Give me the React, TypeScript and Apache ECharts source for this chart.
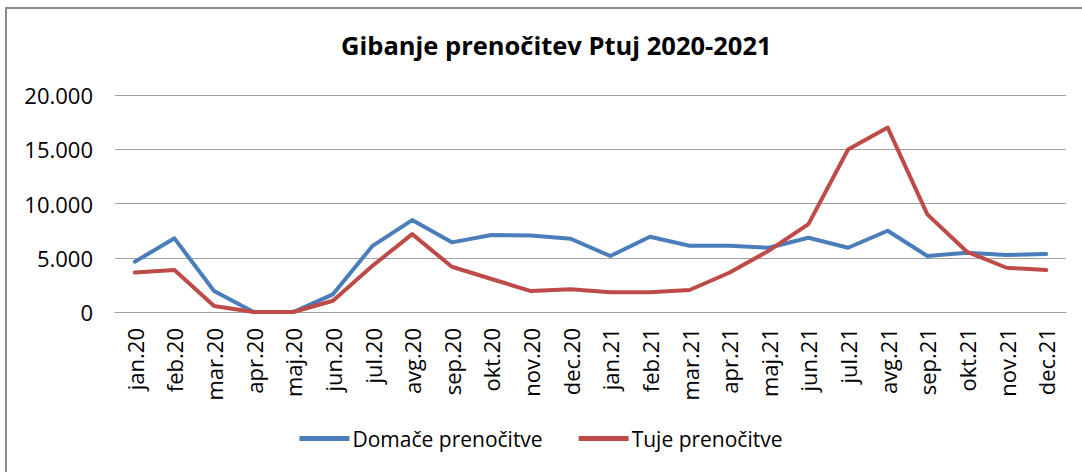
import React, { useEffect, useRef } from "react";
import * as echarts from "echarts";

const categories = [
  "jan.20", "feb.20", "mar.20", "apr.20", "maj.20", "jun.20", "jul.20", "avg.20",
  "sep.20", "okt.20", "nov.20", "dec.20", "jan.21", "feb.21", "mar.21", "apr.21",
  "maj.21", "jun.21", "jul.21", "avg.21", "sep.21", "okt.21", "nov.21", "dec.21",
];

const domace = [
  4630, 6790, 1930, 0, 0, 1630, 6100, 8470, 6420, 7090, 7060, 6750,
  5160, 6930, 6100, 6100, 5920, 6840, 5920, 7490, 5160, 5460, 5250, 5340,
];

const tuje = [
  3650, 3870, 550, 0, 0, 1040, 4260, 7180, 4170, 3040, 1930, 2090,
  1810, 1810, 2030, 3620, 5650, 8100, 14980, 17000, 9000, 5550, 4080, 3870,
];

const seriesNames = ["Domače prenočitve", "Tuje prenočitve"];
const titleText = "Gibanje prenočitev Ptuj 2020-2021";

const FONT = "'Open Sans', 'Noto Sans', sans-serif";

export default function App() {
  const ref = useRef<HTMLDivElement>(null);
  useEffect(() => {
    if (!ref.current) return;
    const chart = echarts.init(ref.current, null, { renderer: "svg" });
    chart.setOption({
      animation: false,
      backgroundColor: "#ffffff",
      title: {
        text: titleText,
        left: 336,
        top: 27,
        textStyle: { fontFamily: FONT, fontSize: 25.5, fontWeight: "bold", color: "#000" },
      },
      legend: {
        data: seriesNames,
        bottom: 18,
        left: "center",
        icon: "rect",
        itemWidth: 50,
        itemHeight: 5,
        itemGap: 36,
        textStyle: { fontFamily: FONT, fontSize: 21, color: "#000", padding: [0, 0, 0, -2] },
      },
      grid: { left: 115, right: 16, top: 95, bottom: 160, containLabel: false },
      xAxis: {
        type: "category",
        data: categories,
        boundaryGap: true,
        axisLine: { show: true, lineStyle: { color: "#a0a0a0", width: 1 } },
        axisTick: { show: false },
        axisLabel: {
          rotate: 90,
          interval: 0,
          margin: 16,
          fontFamily: FONT,
          fontSize: 22,
          color: "#000",
        },
      },
      yAxis: {
        type: "value",
        min: 0,
        max: 20000,
        interval: 5000,
        axisLine: { show: false },
        axisTick: { show: false },
        splitLine: { lineStyle: { color: "#a0a0a0", width: 1 } },
        axisLabel: {
          margin: 22,
          fontFamily: FONT,
          fontSize: 22,
          color: "#000",
          formatter: (v: number) => (v === 0 ? "0" : v.toLocaleString("de-DE")),
        },
      },
      series: [
        {
          name: seriesNames[0],
          type: "line",
          data: domace,
          symbol: "none",
          lineStyle: { color: "#4A7EBB", width: 4, join: "round", cap: "round" },
          itemStyle: { color: "#4A7EBB" },
        },
        {
          name: seriesNames[1],
          type: "line",
          data: tuje,
          symbol: "none",
          lineStyle: { color: "#BE4B48", width: 4, join: "round", cap: "round" },
          itemStyle: { color: "#BE4B48" },
        },
      ],
      graphic: [
        {
          type: "rect",
          shape: { x: 6, y: 8, width: 1200, height: 600 },
          style: { fill: "none", stroke: "#8c8c8c", lineWidth: 2 },
          silent: true,
        },
      ],
    });
    return () => chart.dispose();
  }, []);
  return (
    <div
      ref={ref}
      style={{ position: "absolute", left: 0, top: 0, width: 1082, height: 472 }}
    />
  );
}
